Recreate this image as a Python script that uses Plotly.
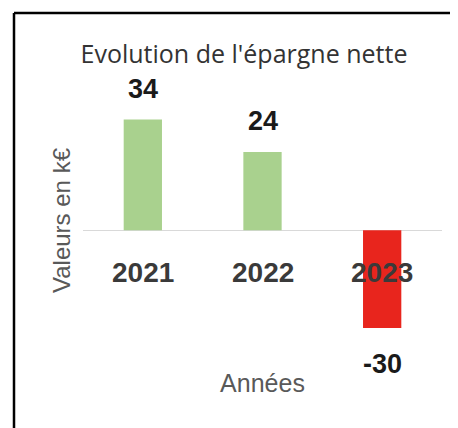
import plotly.graph_objects as go

years = ["2021", "2022", "2023"]
values = [34, 24, -30]
labels = ["34", "24", "-30"]
colors = ["#a9d18e", "#a9d18e", "#e8251d"]

# the page adds an 8px body margin, so the figure is 8px smaller than the window
W, H = 450, 420
ml, mr, mt, mb = 75, 16, 92, 87
y_range = [-34, 40]

fig = go.Figure()
fig.add_trace(go.Bar(
    x=years, y=values,
    marker=dict(color=colors, line=dict(width=0)),
    width=0.32,
    hoverinfo="skip",
))

for i, (yr, v, lab) in enumerate(zip(years, values, labels)):
    # data labels
    fig.add_annotation(
        x=i, y=v, xref="x", yref="y", text=f"<b>{lab}</b>", showarrow=False,
        yanchor="middle", yshift=31 if v >= 0 else -36,
        font=dict(family="Liberation Sans, Arial", size=27, color="#1a1a1a"),
    )
    # category labels sit just below the zero line
    fig.add_annotation(
        x=i, y=0, xref="x", yref="y", text=f"<b>{yr}</b>", showarrow=False,
        yanchor="middle", yshift=-42,
        font=dict(family="Liberation Sans, Arial", size=28, color="#3a3a3a"),
    )

fig.update_layout(
    width=W, height=H,
    margin=dict(l=ml, r=mr, t=mt, b=mb, autoexpand=False),
    paper_bgcolor="white", plot_bgcolor="white",
    showlegend=False,
    title=dict(text="Evolution de l'épargne nette", x=236 / W,
               xanchor="center", y=1 - 46 / H, yanchor="middle",
               font=dict(family="Open Sans", size=25, color="#333333")),
    xaxis=dict(
        type="category", range=[-0.5, 2.5],
        showline=False, ticks="", showgrid=False, showticklabels=False,
        title=dict(text="Années", standoff=33,
                   font=dict(family="Liberation Sans, Arial", size=25, color="#595959")),
        automargin=False,
    ),
    yaxis=dict(
        range=y_range, showticklabels=False, showgrid=False,
        zeroline=True, zerolinecolor="#d9d9d9", zerolinewidth=1,
        ticks="", showline=False,
        title=dict(text="Valeurs en k€", standoff=4,
                   font=dict(family="Liberation Sans, Arial", size=24, color="#595959")),
        automargin=False,
    ),
)

# outer frame of the chart: only its top and left edges are inside the window
pw, ph = W - ml - mr, H - mt - mb
fx0, fx1 = (6 - ml) / pw, (W + 10 - ml) / pw
fy0, fy1 = -(mb + 10) / ph, (H - mb - 5) / ph
fig.add_shape(type="line", xref="paper", yref="paper", x0=fx0, x1=fx1, y0=fy1, y1=fy1,
              line=dict(color="black", width=2.5), layer="above")
fig.add_shape(type="line", xref="paper", yref="paper", x0=fx0, x1=fx0, y0=fy0, y1=fy1,
              line=dict(color="black", width=2.5), layer="above")

fig.write_html("out.html")
